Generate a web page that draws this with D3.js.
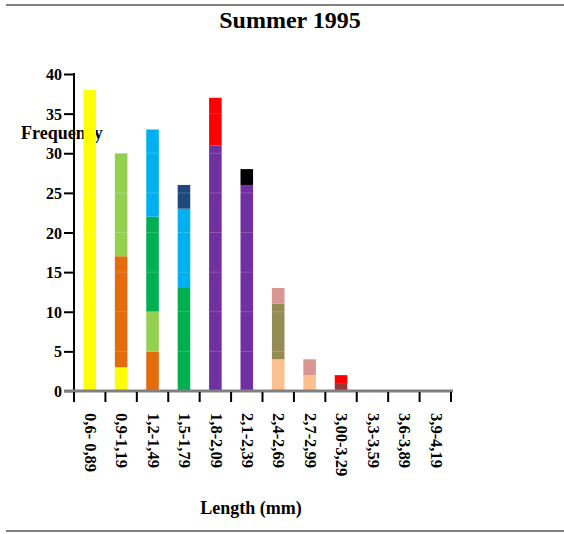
<!DOCTYPE html>
<html><head><meta charset="utf-8">
<script src="https://cdn.jsdelivr.net/npm/d3@7"></script>
<style>html,body{margin:0;padding:0;background:#fff;}</style>
</head><body>
<svg id="c" width="564" height="534"></svg>
<script>
const categories = ["0,6- 0,89","0,9-1,19","1,2-1,49","1,5-1,79","1,8-2,09","2,1-2,39","2,4-2,69","2,7-2,99","3,00-3,29","3,3-3,59","3,6-3,89","3,9-4,19"];
const yTicks = [0,5,10,15,20,25,30,35,40];
const seriesNames = ["A","B","C","D","E","F","G","H","I","J","K","L","M"];
const sA = [38,3,0,0,0,0,0,0,0,0,0,0];
const sB = [0,14,5,0,0,0,0,0,0,0,0,0];
const sC = [0,13,5,0,0,0,0,0,0,0,0,0];
const sD = [0,0,12,13,0,0,0,0,0,0,0,0];
const sE = [0,0,11,10,0,0,0,0,0,0,0,0];
const sF = [0,0,0,3,0,0,0,0,0,0,0,0];
const sG = [0,0,0,0,31,26,0,0,0,0,0,0];
const sH = [0,0,0,0,0,0,4,2,0,0,0,0];
const sI = [0,0,0,0,0,0,7,0,0,0,0,0];
const sJ = [0,0,0,0,0,0,2,2,0,0,0,0];
const sK = [0,0,0,0,0,0,0,0,1,0,0,0];
const sL = [0,0,0,0,6,0,0,0,1,0,0,0];
const sM = [0,0,0,0,0,2,0,0,0,0,0,0];
const seriesValues = [sA,sB,sC,sD,sE,sF,sG,sH,sI,sJ,sK,sL,sM];
const colors = ["#FFFF00","#E46C0A","#92D050","#00B050","#00B0F0","#1F497D","#7030A0","#FAC090","#948A54","#D99694","#953735","#FF0000","#000000"];

const svg = d3.select("#c");
const serif = "'Liberation Serif','Times New Roman',serif";

const table = categories.map((c,i)=>{
  const o = {cat:c};
  seriesNames.forEach((s,j)=>o[s]=seriesValues[j][i]);
  return o;
});
const stack = d3.stack().keys(seriesNames)(table);

const x = d3.scaleBand().domain(categories).range([74,451]).paddingInner(0.6).paddingOuter(0.3);
const y = d3.scaleLinear().domain([0,40]).range([391,74]);

// frame lines
svg.append("line").attr("x1",6).attr("x2",564).attr("y1",5).attr("y2",5).attr("stroke","#808080").attr("stroke-width",2);
svg.append("line").attr("x1",6).attr("x2",564).attr("y1",531).attr("y2",531).attr("stroke","#808080").attr("stroke-width",2);

// title
svg.append("text").attr("x",290).attr("y",28).attr("text-anchor","middle")
  .attr("font-family",serif).attr("font-weight","bold").attr("font-size",24).text("Summer 1995");

// y label (drawn under bars)
svg.append("text").attr("x",21).attr("y",139)
  .attr("font-family",serif).attr("font-weight","bold").attr("font-size",18).text("Frequency");

// x label
svg.append("text").attr("x",251).attr("y",514).attr("text-anchor","middle")
  .attr("font-family",serif).attr("font-weight","bold").attr("font-size",18).text("Length (mm)");

// bars
svg.append("g").selectAll("g").data(stack).join("g")
  .attr("fill",(d,i)=>colors[i])
  .selectAll("rect").data(d=>d.filter(p=>p[1]>p[0])).join("rect")
  .attr("x",d=>x(d.data.cat)).attr("width",x.bandwidth())
  .attr("y",d=>y(d[1])).attr("height",d=>y(d[0])-y(d[1]));

// faint grid over bars
svg.append("g").selectAll("line").data(yTicks.slice(1)).join("line")
  .attr("x1",76).attr("x2",451).attr("y1",d=>y(d)).attr("y2",d=>y(d))
  .attr("stroke","#fff").attr("stroke-opacity",0.18).attr("stroke-width",1);

// y axis
const yAxis = d3.axisLeft(y).tickValues(yTicks).tickSize(10).tickPadding(2);
const gy = svg.append("g").attr("transform","translate(74,0)").call(yAxis);
gy.select(".domain").attr("stroke","#000").attr("stroke-width",2).attr("d","M0,73V391");
gy.selectAll(".tick line").attr("stroke","#000").attr("stroke-width",2);
gy.selectAll(".tick").filter(d=>d===0).select("line").attr("stroke","#808080");
gy.selectAll("text").attr("font-family",serif).attr("font-weight","bold").attr("font-size",16).attr("fill","#000").attr("dy","0.35em");

// x axis line
svg.append("line").attr("x1",64).attr("x2",453).attr("y1",391).attr("y2",391).attr("stroke","#808080").attr("stroke-width",3);

// x ticks at band boundaries
const off = (x.step()-x.bandwidth())/2;
const bounds = categories.map(c=>x(c)-off).concat([x(categories[categories.length-1])+x.bandwidth()+off]);
svg.append("g").selectAll("line").data(bounds).join("line")
  .attr("x1",d=>d).attr("x2",d=>d).attr("y1",392).attr("y2",402)
  .attr("stroke","#000").attr("stroke-width",2);

// x tick labels
svg.append("g").selectAll("text").data(categories).join("text")
  .attr("transform",d=>`translate(${x(d)+x.bandwidth()/2+1},413) rotate(90)`)
  .attr("dy","0.35em")
  .attr("font-family",serif).attr("font-weight","bold").attr("font-size",16.5)
  .text(d=>d);
</script>
</body></html>
